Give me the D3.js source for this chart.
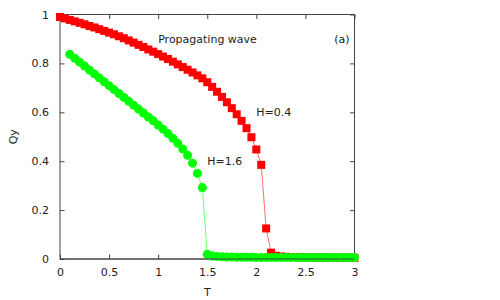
<!DOCTYPE html>
<html><head><meta charset="utf-8">
<script src="https://cdn.jsdelivr.net/npm/d3@7"></script>
<style>body{margin:0;background:#fff}svg{display:block}text{font-family:"DejaVu Sans",sans-serif;}</style>
</head><body><svg id="c" width="500" height="300"></svg>
<script>
const redT = [0.00,0.05,0.10,0.15,0.20,0.25,0.30,0.35,0.40,0.45,0.50,0.55,0.60,0.65,0.70,0.75,0.80,0.85,0.90,0.95,1.00,1.05,1.10,1.15,1.20,1.25,1.30,1.35,1.40,1.45,1.50,1.55,1.60,1.65,1.70,1.75,1.80,1.85,1.90,1.95,2.00,2.05,2.10,2.15,2.20,2.25,2.30,2.35,2.40,2.45,2.50,2.55,2.60,2.65,2.70,2.75,2.80,2.85,2.90,2.95,3.00];
const redQ = [0.990,0.984,0.978,0.972,0.966,0.960,0.953,0.947,0.940,0.933,0.926,0.919,0.911,0.903,0.894,0.885,0.876,0.867,0.857,0.848,0.838,0.828,0.818,0.807,0.796,0.785,0.774,0.763,0.751,0.739,0.723,0.704,0.684,0.663,0.641,0.617,0.592,0.565,0.535,0.498,0.448,0.385,0.125,0.026,0.013,0.010,0.009,0.008,0.008,0.007,0.007,0.007,0.006,0.006,0.006,0.006,0.005,0.005,0.005,0.005,0.005];
const greenT = [0.10,0.15,0.20,0.25,0.30,0.35,0.40,0.45,0.50,0.55,0.60,0.65,0.70,0.75,0.80,0.85,0.90,0.95,1.00,1.05,1.10,1.15,1.20,1.25,1.30,1.35,1.40,1.45,1.50,1.55,1.60,1.65,1.70,1.75,1.80,1.85,1.90,1.95,2.00,2.05,2.10,2.15,2.20,2.25,2.30,2.35,2.40,2.45,2.50,2.55,2.60,2.65,2.70,2.75,2.80,2.85,2.90,2.95,3.00];
const greenQ = [0.837,0.821,0.805,0.789,0.773,0.757,0.741,0.725,0.709,0.693,0.677,0.661,0.645,0.629,0.613,0.597,0.581,0.565,0.548,0.531,0.513,0.494,0.473,0.450,0.424,0.392,0.350,0.292,0.019,0.012,0.010,0.009,0.008,0.008,0.007,0.007,0.007,0.007,0.006,0.006,0.006,0.006,0.006,0.006,0.006,0.006,0.006,0.006,0.006,0.006,0.006,0.006,0.006,0.006,0.006,0.006,0.006,0.006,0.006];
const xTicks = [0,0.5,1,1.5,2,2.5,3];
const xTickLabels = ["0","0.5","1","1.5","2","2.5","3"];
const yTicks = [0,0.2,0.4,0.6,0.8,1];
const yTickLabels = ["0","0.2","0.4","0.6","0.8","1"];
const labelText = ["Propagating wave","H=0.4","H=1.6"];
const labelT = [1.0, 2.0, 1.5];
const labelQ = [0.9, 0.6, 0.4];
const panelLabel = "(a)";

const svg = d3.select("#c");
const L = 60, R = 354.5, T0 = 14.5, B = 259;
const x = d3.scaleLinear().domain([0,3]).range([L,R]);
const y = d3.scaleLinear().domain([0,1]).range([B,T0]);
const axisCol = "#444";

svg.append("rect").attr("x",L).attr("y",T0).attr("width",R-L).attr("height",B-T0)
  .attr("fill","none").attr("stroke",axisCol).attr("stroke-width",1);

const gx = svg.append("g").attr("transform",`translate(0,${B})`)
  .call(d3.axisBottom(x).tickValues(xTicks).tickFormat((d,i)=>xTickLabels[i]).tickSizeInner(-4.5).tickSizeOuter(0).tickPadding(9));
const gxt = svg.append("g").attr("transform",`translate(0,${T0})`)
  .call(d3.axisTop(x).tickValues(xTicks).tickFormat("").tickSizeInner(-4.5).tickSizeOuter(0));
const gy = svg.append("g").attr("transform",`translate(${L},0)`)
  .call(d3.axisLeft(y).tickValues(yTicks).tickFormat((d,i)=>yTickLabels[i]).tickSizeInner(-4.5).tickSizeOuter(0).tickPadding(11));
const gyr = svg.append("g").attr("transform",`translate(${R},0)`)
  .call(d3.axisRight(y).tickValues(yTicks).tickFormat("").tickSizeInner(-4.5).tickSizeOuter(0));
[gx,gxt,gy,gyr].forEach(g=>{
  g.select(".domain").remove();
  g.selectAll(".tick line").attr("stroke",axisCol);
  g.selectAll("text").attr("font-size",11).attr("fill","#222").attr("font-family","DejaVu Sans");
});

svg.append("text").attr("x",x(1.5)).attr("y",296).attr("text-anchor","middle")
  .attr("font-size",11).attr("fill","#222").text("T");
svg.append("text").attr("transform",`translate(17,${y(0.5)}) rotate(-90)`).attr("text-anchor","middle")
  .attr("font-size",11).attr("fill","#222").text("Qy");

const red = redT.map((t,i)=>[t,redQ[i]]);
const green = greenT.map((t,i)=>[t,greenQ[i]]);
const line = d3.line().x(d=>x(d[0])).y(d=>y(d[1]));

svg.append("path").datum(red).attr("d",line).attr("fill","none").attr("stroke","#ff7070").attr("stroke-width",1);
svg.append("g").selectAll("rect").data(red).join("rect")
  .attr("x",d=>x(d[0])-4).attr("y",d=>y(d[1])-4).attr("width",8).attr("height",8).attr("fill","#ff0000");

svg.append("path").datum(green).attr("d",line).attr("fill","none").attr("stroke","#70ff70").attr("stroke-width",1);
svg.append("g").selectAll("circle").data(green).join("circle")
  .attr("cx",d=>x(d[0])).attr("cy",d=>y(d[1])).attr("r",4.5).attr("fill","#00ff00");

svg.append("line").attr("x1",x(0)).attr("x2",x(3)).attr("y1",y(0)).attr("y2",y(0)).attr("stroke",axisCol).attr("stroke-width",1);

labelText.forEach((s,i)=>{
  svg.append("text").attr("x",x(labelT[i])).attr("y",y(labelQ[i])).attr("dy","0.35em")
    .attr("font-size",11).attr("fill","#222").text(s);
});
svg.append("text").attr("x",x(2.95)).attr("y",y(0.9)).attr("dy","0.35em").attr("text-anchor","end")
  .attr("font-size",11).attr("fill","#222").text(panelLabel);
</script></body></html>
